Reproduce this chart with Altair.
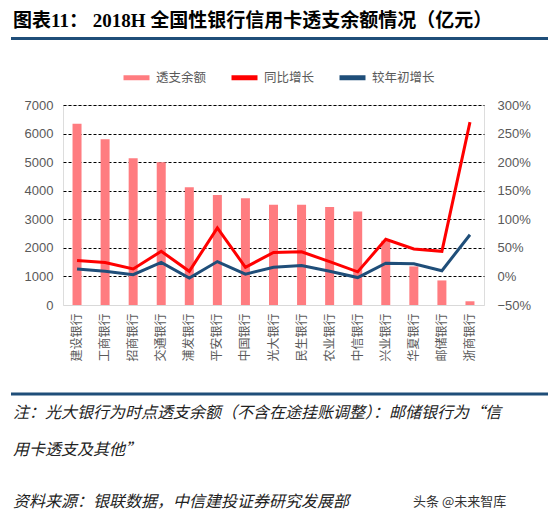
import altair as alt
import pandas as pd

banks = ["建设银行", "工商银行", "招商银行", "交通银行", "浦发银行", "平安银行", "中国银行",
         "光大银行", "民生银行", "农业银行", "中信银行", "兴业银行", "华夏银行", "邮储银行", "浙商银行"]
balance = [6340, 5800, 5140, 5000, 4120, 3850, 3740, 3510, 3510, 3430, 3270, 2250, 1350, 860, 130]
yoy = [0.28, 0.245, 0.13, 0.44, 0.09, 0.85, 0.16, 0.42, 0.43, 0.26, 0.08, 0.65, 0.48, 0.44, 2.70]
ytd = [0.13, 0.09, 0.03, 0.245, -0.03, 0.26, 0.04, 0.16, 0.19, 0.09, -0.02, 0.23, 0.22, 0.10, 0.73]
series_names = ["透支余额", "同比增长", "较年初增长"]
series_colors = ["#FF7C80", "#FF0000", "#1F4E79"]
left_ticks = [0, 1000, 2000, 3000, 4000, 5000, 6000, 7000]
right_ticks = [-0.5, 0, 0.5, 1.0, 1.5, 2.0, 2.5, 3.0]

title_text = "图表11：  2018H 全国性银行信用卡透支余额情况（亿元）"
note1 = "注：光大银行为时点透支余额（不含在途挂账调整）：邮储银行为“信"
note2 = "用卡透支及其他”"
source_text = "资料来源：银联数据，中信建投证券研究发展部"
mark_text_wm = "头条 @未来智库"

bar_df = pd.DataFrame({"bank": banks, "balance": balance})
line_df = pd.DataFrame({
    "bank": banks * 2,
    "series": [series_names[1]] * len(banks) + [series_names[2]] * len(banks),
    "value": yoy + ytd,
})

W, H = 421, 200
LAT = "'Liberation Sans', 'Noto Sans CJK SC', sans-serif"
CJK = "'Noto Sans CJK SC', sans-serif"

x_enc = alt.X(
    "bank:N", sort=banks,
    scale=alt.Scale(domain=banks, paddingInner=0, paddingOuter=0),
    axis=alt.Axis(title=None, labelAngle=-90, labelFont=CJK, labelFontSize=12,
                  labelColor="#595959", ticks=False, domainColor="#D9D9D9",
                  labelPadding=8, domainWidth=1),
)

bars = alt.Chart(bar_df).mark_bar(size=9, color=series_colors[0]).encode(
    x=x_enc,
    y=alt.Y("balance:Q", scale=alt.Scale(domain=[0, 7000], nice=False),
            axis=alt.Axis(title=None, values=left_ticks, format="d", labelFont=LAT, labelFontSize=13,
                          labelColor="#595959", ticks=False, domain=False, labelPadding=10,
                          grid=True, gridColor="#000000", gridDash=[3, 2], gridWidth=1.2,
                          gridOpacity=alt.condition("datum.value == 0", alt.value(0), alt.value(1)))),
)

lines = alt.Chart(line_df).mark_line(strokeWidth=3).encode(
    x=x_enc,
    y=alt.Y("value:Q", scale=alt.Scale(domain=[-0.5, 3.0], nice=False),
            axis=alt.Axis(title=None, orient="right", values=right_ticks, format=".0%",
                          labelFont=LAT, labelFontSize=13, labelColor="#595959",
                          ticks=False, domain=False, grid=False, labelPadding=13)),
    color=alt.Color("series:N",
                    scale=alt.Scale(domain=series_names, range=series_colors),
                    legend=alt.Legend(title=None, orient="none", direction="horizontal",
                                      legendX=58, legendY=-43, symbolType="stroke",
                                      symbolStrokeWidth=5, symbolSize=676,
                                      labelFont=CJK, labelFontSize=12.5, labelColor="#595959",
                                      columnPadding=14, labelOffset=4)),
    order=alt.Order("series:N"),
)

one = alt.Data(values=[{}])


def txt(text, x, y, size, **kw):
    return alt.Chart(one).mark_text(text=text, align=kw.pop("align", "left"), baseline="middle",
                                    fontSize=size, **kw).encode(x=alt.value(x), y=alt.value(y))


def hrule(y, x1, x2, color, width):
    return alt.Chart(one).mark_rule(color=color, strokeWidth=width).encode(
        x=alt.value(x1), x2=alt.value(x2), y=alt.value(y))


deco = [
    txt(title_text, -50, -84, 19, font="'Liberation Serif', 'Noto Sans CJK SC', serif",
        fontWeight="bold", color="black"),
    hrule(-66.5, -52, 494, "#1F4E79", 3),
    hrule(289, -52, 494, "#1F4E79", 3),
    txt(note1, -50, 308, 16, font=CJK, fontStyle="italic", color="#222222"),
    txt(note2, -50, 345, 16, font=CJK, fontStyle="italic", color="#222222"),
    txt(source_text, -50, 397, 16, font=CJK, fontStyle="italic", color="#222222"),
    txt(mark_text_wm, 350, 397, 13, font=CJK, color="#333333"),
]

chart = alt.layer(bars, lines, *deco).resolve_scale(y="independent").properties(
    width=W, height=H,
    autosize=alt.AutoSizeParams(type="none"),
    padding={"left": 55, "top": 97, "right": 64, "bottom": 209},
).configure_view(stroke=None).configure(background="white")

chart.save("out.html", embed_options={"renderer": "svg", "actions": False})
